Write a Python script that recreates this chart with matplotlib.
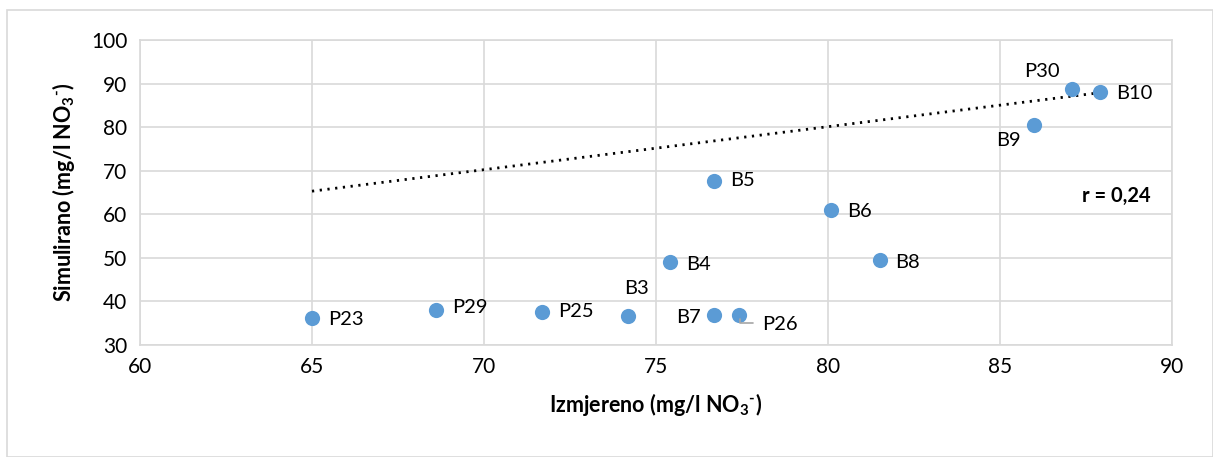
import matplotlib.pyplot as plt
from matplotlib.patches import Rectangle

plt.rcParams['font.family'] = ['Lato', 'DejaVu Sans']
plt.rcParams['mathtext.fontset'] = 'custom'
plt.rcParams['mathtext.rm'] = 'Lato'
plt.rcParams['mathtext.bf'] = 'Lato:bold'

# podaci
names = ['P23', 'P29', 'P25', 'B3', 'B7', 'P26', 'B4', 'B5', 'B6', 'B8', 'B9', 'P30', 'B10']
izmjereno = [65.0, 68.6, 71.7, 74.2, 76.7, 77.4, 75.4, 76.7, 80.1, 81.5, 86.0, 87.1, 87.9]
simulirano = [36.2, 38.1, 37.6, 36.7, 36.9, 36.9, 49.1, 67.7, 61.0, 49.5, 80.5, 88.8, 88.1]
trend_x = [65.0, 87.9]
trend_y = [65.3, 87.9]
# pomak oznaka (x, y) u pikselima
offsets = [(16, -2), (16, 2), (16, 0), (8, 27), (-14, -3), (24, -10), (16, -3), (16, 0),
           (16, -2), (16, -2), (-14, -16), (-12, 17), (16, -2)]

fig = plt.figure(figsize=(12.13, 4.57), dpi=100)
fig.patches.append(Rectangle((0.006, 0.0), 0.994, 0.978, transform=fig.transFigure,
                             fill=False, edgecolor='#d9d9d9', lw=1.2))
ax = fig.add_axes([0.1154, 0.2451, 0.8508, 0.6674])

ax.plot(trend_x, trend_y, color='black', ls=(0, (0.8, 2.0)), lw=2.0, zorder=2)
ax.scatter(izmjereno, simulirano, s=120, color='#5b9bd5', zorder=3, linewidths=0)

for n, x, y, (dx, dy) in zip(names, izmjereno, simulirano, offsets):
    ha = 'left' if dx > 0 else 'right'
    if n == 'B3':
        ha = 'center'
    ax.annotate(n, (x, y), xytext=(dx, dy), textcoords='offset pixels',
                ha=ha, va='center', fontsize=14.5, zorder=4)

# linija za P26
ax.annotate('', (77.45, 36.5), xytext=(77.45 + 0.45, 35.1),
            arrowprops=dict(arrowstyle='-', color='#a6a6a6', lw=1.2,
                            connectionstyle='angle,angleA=0,angleB=90,rad=0'))

ax.text(0.979, 0.49, 'r = 0,24', transform=ax.transAxes, ha='right', va='center',
        fontsize=14.5, fontweight='bold')

ax.set_xlim(60, 90)
ax.set_ylim(30, 100)
ax.set_xticks(range(60, 91, 5))
ax.set_yticks(range(30, 101, 10))
ax.grid(True, color='#d9d9d9', lw=1.2)
ax.set_axisbelow(True)
for s in ax.spines.values():
    s.set_color('#d9d9d9')
    s.set_linewidth(1.2)
ax.tick_params(length=0, labelsize=15, pad=9)

ax.set_xlabel('Izmjereno (mg/l NO$_\\mathbf{3}$$^{\\mathbf{\u2010}}$)', fontsize=15.5, fontweight='bold', labelpad=10)
ax.set_ylabel('Simulirano (mg/l NO$_\\mathbf{3}$$^{\\mathbf{\u2010}}$)', fontsize=15.5, fontweight='bold', labelpad=10)

fig.savefig('out.png', dpi=100)
